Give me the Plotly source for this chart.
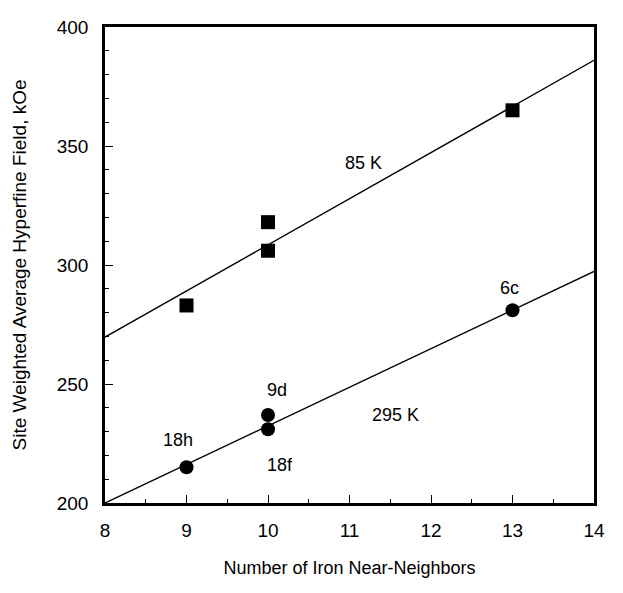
import plotly.graph_objects as go

# Data
n_85 = [9, 10, 10, 13]
hf_85 = [283, 318, 306, 365]
n_295 = [9, 10, 10, 13]
hf_295 = [215, 237, 231, 281]

fit_x = [8, 14]
fit_85 = [269.7, 386.0]
fit_295 = [200.0, 297.3]

labels_text = ["85 K", "6c", "9d", "295 K", "18h", "18f"]
labels_x = [11.17, 12.96, 10.11, 11.57, 8.90, 10.15]
labels_y = [342.7, 290.2, 247.5, 236.9, 226.4, 216.1]

FONT = "Liberation Sans, Arial, sans-serif"

fig = go.Figure()
fig.add_trace(go.Scatter(x=fit_x, y=fit_85, mode="lines",
                         line=dict(color="black", width=1.4), showlegend=False))
fig.add_trace(go.Scatter(x=fit_x, y=fit_295, mode="lines",
                         line=dict(color="black", width=1.4), showlegend=False))
fig.add_trace(go.Scatter(x=n_85, y=hf_85, mode="markers",
                         marker=dict(symbol="square", size=14, color="black"),
                         showlegend=False))
fig.add_trace(go.Scatter(x=n_295, y=hf_295, mode="markers",
                         marker=dict(symbol="circle", size=14, color="black"),
                         showlegend=False))

for t, x, y in zip(labels_text, labels_x, labels_y):
    fig.add_annotation(x=x, y=y, text=t, showarrow=False,
                       font=dict(family=FONT, size=18, color="black"))

axis_common = dict(
    showgrid=False, zeroline=False,
    showline=True, linecolor="black", linewidth=2.5, mirror=True,
    ticks="inside", tickcolor="black", tickwidth=1.2, ticklen=8,
    tickfont=dict(family=FONT, size=19, color="black"),
)

fig.update_xaxes(range=[8, 14], dtick=1, ticklabelstandoff=8,
                 minor=dict(dtick=0.5, ticks="inside", ticklen=4, tickcolor="black", tickwidth=1),
                 title=dict(text="Number of Iron Near-Neighbors",
                            font=dict(family=FONT, size=18, color="black"), standoff=22),
                 **axis_common)
fig.update_yaxes(range=[200, 400], dtick=50, ticklabelstandoff=10,
                 minor=dict(dtick=10, ticks="inside", ticklen=4, tickcolor="black", tickwidth=1),
                 title=dict(text="Site Weighted Average Hyperfine Field, kOe",
                            font=dict(family=FONT, size=19, color="black"), standoff=26),
                 **axis_common)

fig.update_layout(
    width=606, height=576,
    margin=dict(l=97, r=12, t=9, b=69),
    paper_bgcolor="white", plot_bgcolor="white",
)

fig.write_html("out.html")
